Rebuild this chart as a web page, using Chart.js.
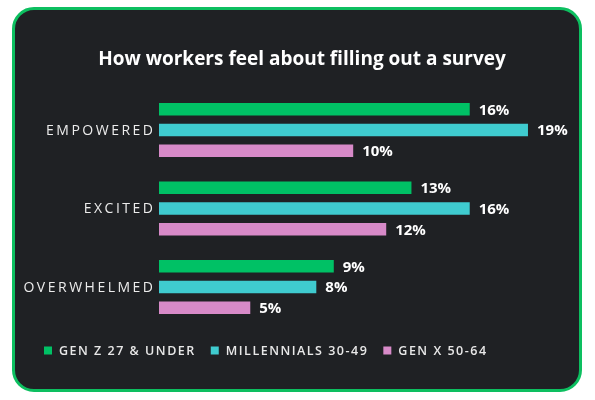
<!DOCTYPE html>
<html><head><meta charset="utf-8">
<script src="https://cdn.jsdelivr.net/npm/chart.js@4"></script>
<style>
html,body{margin:0;padding:0;background:#fff;}
#wrap{position:relative;width:595px;height:400px;overflow:hidden;}
#card{position:absolute;left:12px;top:7px;width:570px;height:385px;box-sizing:border-box;border:3.5px solid #0dbf60;border-radius:22px;background:#1f2124;}
canvas{position:absolute;left:0;top:0;}
</style></head><body>
<div id="wrap"><div id="card"></div><canvas id="c" width="595" height="400"></canvas></div>
<script>
const categories = ['EMPOWERED', 'EXCITED', 'OVERWHELMED'];
const seriesNames = ['GEN Z 27 & UNDER', 'MILLENNIALS 30-49', 'GEN X 50-64'];
const genZ = [16, 13, 9];
const millennials = [19, 16, 8.1];
const genX = [10, 11.7, 4.7];
const titleText = 'How workers feel about filling out a survey';
const colors = ['#00c165', '#3fcbcf', '#d78ac8'];

const categoryLabels = {
  id: 'categoryLabels',
  afterDraw(chart) {
    const ctx = chart.ctx, y = chart.scales.y, area = chart.chartArea;
    ctx.save();
    ctx.font = '500 14px "Open Sans"';
    ctx.letterSpacing = '2.5px';
    ctx.fillStyle = '#ececec';
    ctx.textAlign = 'right';
    ctx.textBaseline = 'middle';
    chart.data.labels.forEach((lab, i) => {
      ctx.fillText(lab, area.left - 3.5, y.getPixelForValue(i) + 1);
    });
    ctx.letterSpacing = '0px';
    ctx.restore();
  }
};

const valueLabels = {
  id: 'valueLabels',
  afterDatasetsDraw(chart) {
    const ctx = chart.ctx;
    ctx.save();
    ctx.font = '700 15px "Open Sans"';
    ctx.fillStyle = '#ffffff';
    ctx.textAlign = 'left';
    ctx.textBaseline = 'middle';
    chart.data.datasets.forEach((ds, di) => {
      const meta = chart.getDatasetMeta(di);
      meta.data.forEach((el, i) => {
        ctx.fillText(Math.round(ds.data[i]) + '%', el.x + 9, el.y + 1);
      });
    });
    ctx.restore();
  }
};

const customLegend = {
  id: 'customLegend',
  afterDraw(chart) {
    const ctx = chart.ctx;
    ctx.save();
    ctx.font = '600 12.5px "Open Sans"';
    ctx.letterSpacing = '1.5px';
    ctx.textBaseline = 'middle';
    ctx.textAlign = 'left';
    let x = 44;
    const yc = 350.5;
    chart.data.datasets.forEach((ds) => {
      ctx.fillStyle = ds.backgroundColor;
      ctx.fillRect(x, yc - 4, 8, 8);
      x += 15;
      ctx.fillStyle = '#e8e8e8';
      ctx.fillText(ds.label, x, yc + 0.5);
      x += ctx.measureText(ds.label).width + 15;
    });
    ctx.letterSpacing = '0px';
    ctx.restore();
  }
};

new Chart(document.getElementById('c'), {
  type: 'bar',
  data: {
    labels: categories,
    datasets: [
      { label: seriesNames[0], data: genZ, backgroundColor: colors[0] },
      { label: seriesNames[1], data: millennials, backgroundColor: colors[1] },
      { label: seriesNames[2], data: genX, backgroundColor: colors[2] }
    ]
  },
  options: {
    responsive: false,
    animation: false,
    devicePixelRatio: 1,
    indexAxis: 'y',
    datasets: { bar: { barPercentage: 0.6, categoryPercentage: 0.793 } },
    layout: { padding: { left: 56.6, right: 47.6, top: 0, bottom: 73.75 } },
    plugins: {
      legend: { display: false },
      tooltip: { enabled: false },
      title: {
        display: true, text: titleText, color: '#ffffff',
        font: { family: 'Open Sans', size: 19, weight: 'bold', lineHeight: 1.2 },
        padding: { top: 48.6, bottom: 19.35 }
      }
    },
    scales: {
      x: { min: 0, max: 20, display: false },
      y: {
        display: true,
        grid: { display: false },
        border: { display: false },
        ticks: { display: false },
        afterFit(scale) { scale.width = 102.4; }
      }
    }
  },
  plugins: [categoryLabels, valueLabels, customLegend]
});
</script>
</body></html>
